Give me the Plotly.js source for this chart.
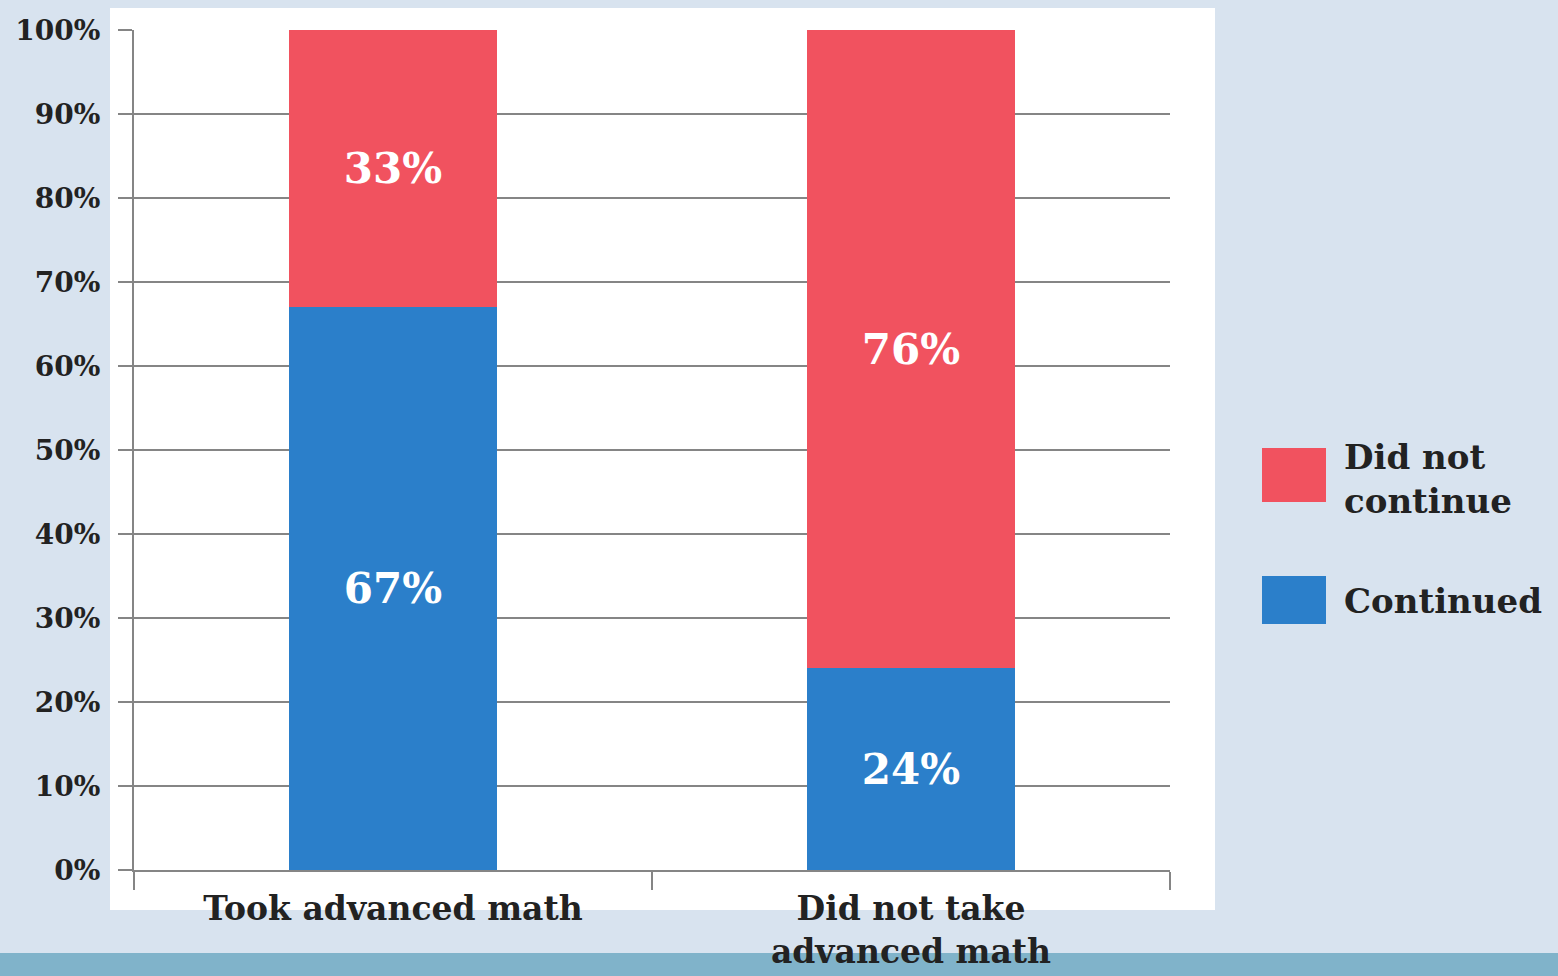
<!DOCTYPE html>
<html>
<head>
<meta charset="utf-8">
<script src="https://cdn.plot.ly/plotly-3.0.1.min.js"></script>
<style>html,body{margin:0;padding:0;background:#d8e3ef;}#chart{width:1558px;height:976px;}</style>
</head>
<body>
<div id="chart"></div>
<script>
// ---- data ----
const categories = ["Took advanced math", "Did not take<br>advanced math"];
const continued = [67, 24];
const didNotContinue = [33, 76];
const seriesNames = ["Continued", "Did not continue"];
const legendLabels = ["Did not<br>continue", "Continued"];
const yTicks = [0, 10, 20, 30, 40, 50, 60, 70, 80, 90, 100];

// ---- style ----
const RED = "#f1525f";
const BLUE = "#2b7fca";
const GRID = "#858585";
const TEXT = "#222222";
const SERIF = "DejaVu Serif, Liberation Serif, serif";

const W = 1558, H = 976;
const M = {l: 134, r: W - 1170, t: 30, b: H - 870};
const pw = W - M.l - M.r, ph = H - M.t - M.b;
const px = v => (v - M.l) / pw;          // pixel x -> paper
const py = v => (H - M.b - v) / ph;      // pixel y -> paper

const barText = {family: SERIF, size: 42, color: "#ffffff", weight: "bold"};

const traces = [
  {
    type: "bar", name: seriesNames[0], x: categories, y: continued,
    marker: {color: BLUE, line: {width: 0}}, width: 0.4,
    texttemplate: "%{y}%", textposition: "inside", insidetextanchor: "middle",
    textangle: 0, textfont: barText, constraintext: "none",
    showlegend: false, hoverinfo: "skip"
  },
  {
    type: "bar", name: seriesNames[1], x: categories, y: didNotContinue,
    marker: {color: RED, line: {width: 0}}, width: 0.4,
    texttemplate: "%{y}%", textposition: "inside", insidetextanchor: "middle",
    textangle: 0, textfont: barText, constraintext: "none",
    showlegend: false, hoverinfo: "skip"
  }
];

const layout = {
  width: W, height: H,
  margin: M,
  paper_bgcolor: "#d8e3ef",
  plot_bgcolor: "#ffffff",
  barmode: "stack",
  showlegend: false,
  xaxis: {
    type: "category",
    tickson: "boundaries",
    ticks: "outside", ticklen: 18, tickwidth: 2, tickcolor: GRID,
    showline: true, linecolor: GRID, linewidth: 2,
    showgrid: false, zeroline: false,
    ticklabelstandoff: 8,
    tickfont: {family: SERIF, size: 33, color: TEXT, weight: "bold"},
    range: [-0.5, 1.5], fixedrange: true
  },
  yaxis: {
    range: [0, 100],
    tickvals: yTicks, ticktext: yTicks.map(v => v + "%"),
    ticks: "outside", ticklen: 14, tickwidth: 2, tickcolor: GRID,
    showline: true, linecolor: GRID, linewidth: 2,
    showgrid: true, gridcolor: GRID, gridwidth: 2,
    zeroline: false,
    ticklabelstandoff: 12,
    tickfont: {family: SERIF, size: 28, color: TEXT, weight: "bold"},
    fixedrange: true
  },
  shapes: [
    // white panel
    {type: "rect", xref: "paper", yref: "paper", layer: "below",
     x0: px(110), x1: px(1215), y0: py(910), y1: py(8),
     fillcolor: "#ffffff", line: {width: 0}},
    // bottom strip
    {type: "rect", xref: "paper", yref: "paper", layer: "below",
     x0: px(0), x1: px(W), y0: py(H + 5), y1: py(953),
     fillcolor: "#80b3ca", line: {width: 0}},
    // legend swatches
    {type: "rect", xref: "paper", yref: "paper",
     x0: px(1262), x1: px(1326), y0: py(502), y1: py(448),
     fillcolor: RED, line: {width: 0}},
    {type: "rect", xref: "paper", yref: "paper",
     x0: px(1262), x1: px(1326), y0: py(624), y1: py(576),
     fillcolor: BLUE, line: {width: 0}}
  ],
  annotations: [
    {xref: "paper", yref: "paper", x: px(1342), y: py(479),
     xanchor: "left", yanchor: "middle", align: "left", showarrow: false,
     text: legendLabels[0],
     font: {family: SERIF, size: 34, color: TEXT, weight: "bold"}},
    {xref: "paper", yref: "paper", x: px(1342), y: py(601),
     xanchor: "left", yanchor: "middle", align: "left", showarrow: false,
     text: legendLabels[1],
     font: {family: SERIF, size: 34, color: TEXT, weight: "bold"}}
  ]
};

Plotly.newPlot("chart", traces, layout, {displayModeBar: false, staticPlot: true});
</script>
</body>
</html>
